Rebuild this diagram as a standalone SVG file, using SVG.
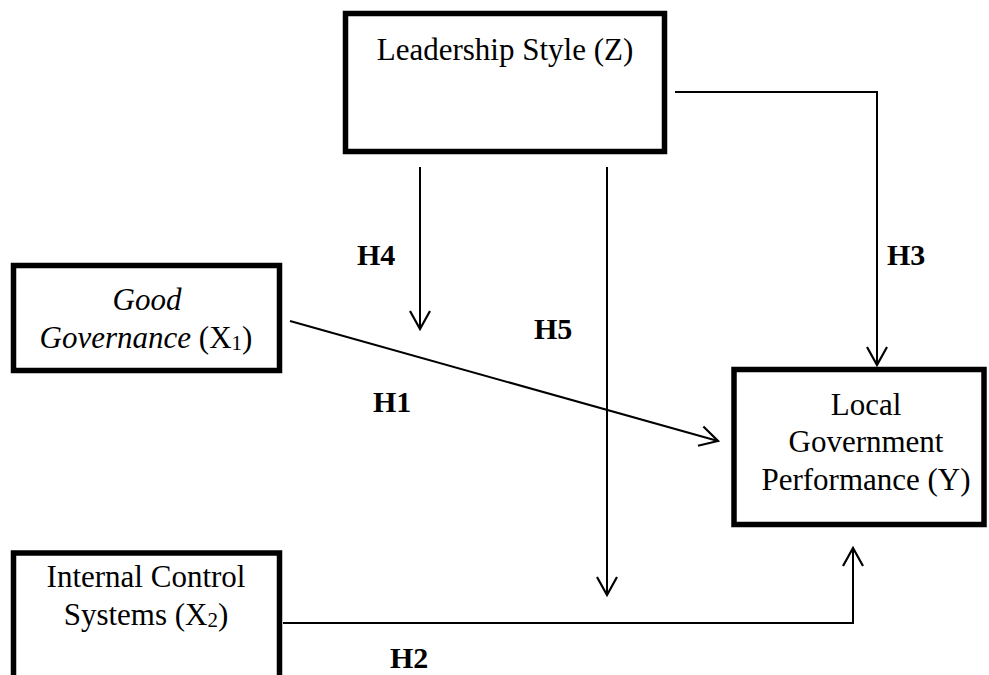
<svg xmlns="http://www.w3.org/2000/svg" width="989" height="675" viewBox="0 0 989 675">
<defs>
<marker id="arr" markerWidth="24" markerHeight="24" viewBox="-20 -12 24 24" refX="0" refY="0" orient="auto" markerUnits="userSpaceOnUse">
<path d="M-18,-10 L0,0 L-18,10" fill="none" stroke="#000" stroke-width="2.2"/>
</marker>
<style>
.box{fill:#fff;stroke:#000;stroke-width:5.5}
.t{font-family:"Liberation Serif","Times New Roman",serif;font-size:31px;fill:#000;text-anchor:middle}
.h{font-family:"Liberation Serif","Times New Roman",serif;font-size:30px;font-weight:bold;fill:#000}
.c{fill:none;stroke:#000;stroke-width:2}
</style>
</defs>
<rect width="989" height="675" fill="#fff"/>
<g id="connectors">
<path class="c" d="M675,92 H877 V365" marker-end="url(#arr)"/>
<path class="c" d="M420,167 V329" marker-end="url(#arr)"/>
<path class="c" d="M607,167 V595" marker-end="url(#arr)"/>
<path class="c" d="M290,321 L718,441" marker-end="url(#arr)"/>
<path class="c" d="M283,623 H853 V548" marker-end="url(#arr)"/>
<text class="h" x="357" y="265">H4</text>
<text class="h" x="534" y="339">H5</text>
<text class="h" x="887" y="265">H3</text>
<text class="h" x="373" y="412">H1</text>
<text class="h" x="390" y="668">H2</text>
</g>
<g id="leadership">
<rect class="box" x="345.5" y="13.5" width="319" height="138"/>
<text class="t" x="505" y="60">Leadership Style (Z)</text>
</g>
<g id="good-governance">
<rect class="box" x="13.5" y="265.5" width="266" height="105"/>
<text class="t" x="147" y="310" font-style="italic">Good</text>
<text class="t" x="146" y="348"><tspan font-style="italic">Governance</tspan> (X<tspan font-size="21" dy="2">1</tspan><tspan dy="-2">)</tspan></text>
</g>
<g id="internal-control">
<rect class="box" x="13.5" y="553" width="266" height="140"/>
<text class="t" x="146" y="587">Internal Control</text>
<text class="t" x="146" y="625">Systems (X<tspan font-size="21" dy="2">2</tspan><tspan dy="-2">)</tspan></text>
</g>
<g id="local-gov">
<rect class="box" x="734" y="369.5" width="250" height="155"/>
<text class="t" x="866" y="415">Local</text>
<text class="t" x="866" y="452">Government</text>
<text class="t" x="866" y="490">Performance (Y)</text>
</g>
</svg>
